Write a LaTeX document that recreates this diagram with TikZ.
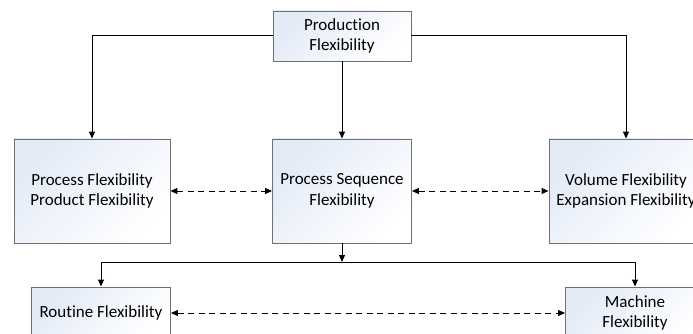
\documentclass[tikz,border=0pt]{standalone}
\usepackage{fontspec}
\setmainfont[RawFeature={-liga;-clig;-dlig}]{Carlito}
\usetikzlibrary{arrows.meta}
\definecolor{boxline}{rgb}{.44,.44,.44}
\definecolor{boxtint}{rgb}{.89,.92,.97}

\begin{document}
\begin{tikzpicture}[x=1pt, y=-1pt, >={Triangle[length=7pt,width=6pt]}, line width=1pt,
	   font=\fontsize{17}{20.5}\selectfont,
	   b/.style={draw=boxline, line width=0.9pt, top color=boxtint, bottom color=white, shading angle=45, align=center, inner sep=0pt},
	   d/.style={<->, dash pattern=on 6pt off 4.5pt}]
	  \clip (0,0) rectangle (693,334);
	  \node[b, minimum width=138pt, minimum height=50pt] (prod) at (342,36) {Production\\Flexibility};
	  \node[b, minimum width=156pt, minimum height=104pt] (procprod) at (92,191) {Process Flexibility\\Product Flexibility};
	  \node[b, minimum width=139pt, minimum height=104pt] (seq) at (342,191) {Process Sequence\\Flexibility};
	  \node[b, minimum width=154pt, minimum height=104pt] (volexp) at (626,191) {Volume Flexibility\\Expansion Flexibility};
	  \node[b, minimum width=139pt, minimum height=52pt] (rout) at (101,313) {Routine Flexibility};
	  \node[b, minimum width=139pt, minimum height=52pt] (mach) at (635,313) {Machine\\Flexibility};
	  \coordinate (split) at (342,262);
	  \draw[->] (prod.west)-|(procprod.north); \draw[->] (prod.east)-|(volexp.north); \draw[->] (prod)--(seq);
	  \draw[d] (procprod)--(seq); \draw[d] (seq)--(volexp);
	  \draw[->] (seq)--(split); \draw[->] (split)-|(rout.north); \draw[->] (split)-|(mach.north);
	  \draw[d] (rout)--(mach);
	\end{tikzpicture}
\end{document}
